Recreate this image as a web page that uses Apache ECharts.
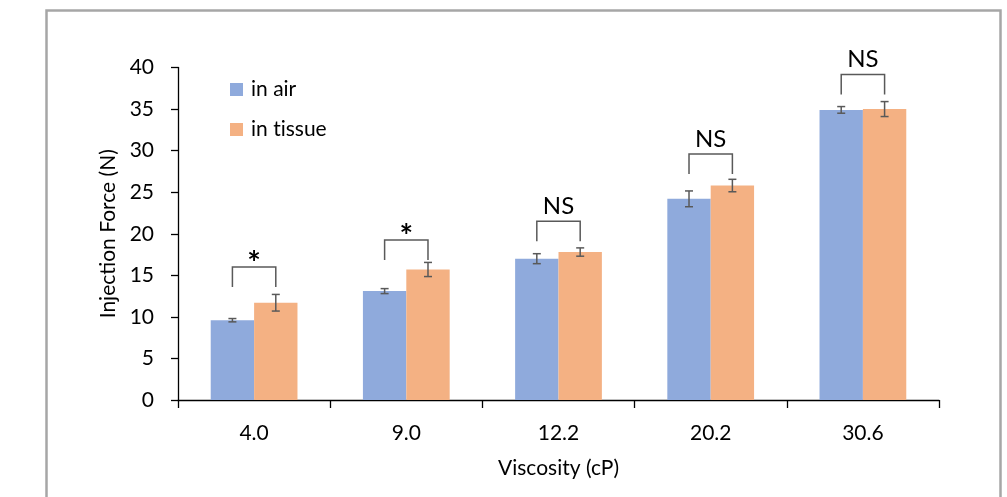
<!DOCTYPE html>
<html>
<head>
<meta charset="utf-8">
<script src="https://cdn.jsdelivr.net/npm/echarts@6/dist/echarts.min.js"></script>
<style>
html,body{margin:0;padding:0;background:#fff;}
#c{width:1007px;height:497px;}
</style>
</head>
<body>
<div id="c"></div>
<script>
var categories = ['4.0', '9.0', '12.2', '20.2', '30.6'];
var yTicks = [0, 5, 10, 15, 20, 25, 30, 35, 40];
var airValues = [9.6, 13.1, 17.0, 24.2, 34.9];
var tissueValues = [11.7, 15.7, 17.8, 25.8, 35.0];
var airErrors = [0.2, 0.3, 0.6, 0.95, 0.4];
var tissueErrors = [1.0, 0.85, 0.5, 0.75, 0.9];
var sigLabels = ['*', '*', 'NS', 'NS', 'NS'];
var sigLevels = [16.0, 19.25, 21.5, 29.6, 39.15];

var FONT = 'Lato, "Open Sans", sans-serif';
var CAT_GAP = 0.43;
var COLORS = ['#8FAADC', '#F4B183'];

function barOffset(api, sign) {
  var band = api.size([1, 0])[0];
  var bw = band * (1 - CAT_GAP) / 2;
  return sign * bw / 2;
}

function errRenderer(values, errors, sign) {
  return function (params, api) {
    var i = api.value(0);
    var v = values[i], e = errors[i];
    var off = barOffset(api, sign);
    var pTop = api.coord([i, v + e]);
    var pBot = api.coord([i, v - e]);
    var x = pTop[0] + off;
    var cap = 4;
    var st = {stroke: '#595959', lineWidth: 1.5};
    return {
      type: 'group',
      children: [
        {type: 'line', shape: {x1: x, y1: pTop[1], x2: x, y2: pBot[1]}, style: st},
        {type: 'line', shape: {x1: x - cap, y1: pTop[1], x2: x + cap, y2: pTop[1]}, style: st},
        {type: 'line', shape: {x1: x - cap, y1: pBot[1], x2: x + cap, y2: pBot[1]}, style: st}
      ]
    };
  };
}

function sigRenderer(params, api) {
  var i = api.value(0);
  var lvl = sigLevels[i];
  var p = api.coord([i, lvl]);
  var xl = p[0] + barOffset(api, -1);
  var xr = p[0] + barOffset(api, 1);
  var yt = p[1];
  var leg = 20;
  var lab = sigLabels[i];
  var isStar = lab === '*';
  return {
    type: 'group',
    children: [
      {type: 'polyline', shape: {points: [[xl, yt + leg], [xl, yt], [xr, yt], [xr, yt + leg]]},
        style: {stroke: '#595959', lineWidth: 1.5, fill: null}},
      {type: 'text', x: (xl + xr) / 2, y: isStar ? yt + 14 : yt - 3,
        style: {text: lab, align: 'center', verticalAlign: 'bottom',
          font: (isStar ? 'bold 32px ' : '24px ') + FONT, fill: '#000'}}
    ]
  };
}

var idx = categories.map(function (c, i) { return [i]; });

var chart = echarts.init(document.getElementById('c'), null, {renderer: 'canvas'});
chart.setOption({
  animation: false,
  backgroundColor: '#fff',
  textStyle: {fontFamily: FONT},
  graphic: [{
    type: 'rect', shape: {x: 46.5, y: 10.5, width: 954, height: 520},
    style: {fill: null, stroke: '#a6a6a6', lineWidth: 2.5}, silent: true
  }],
  legend: {
    orient: 'vertical', left: 225, top: 73,
    itemWidth: 13, itemHeight: 13, itemGap: 17,
    icon: 'rect',
    data: ['in air', 'in tissue'],
    formatter: function (n) { return n.replace('ti', 't\u200Ci'); },
    textStyle: {fontSize: 21, color: '#000', fontFamily: FONT, lineHeight: 23, padding: [0, 0, 0, 3]}
  },
  grid: {left: 178, right: 68, top: 67.5, bottom: 97, containLabel: false},
  xAxis: {
    type: 'category', data: categories,
    name: 'Viscosity (cP)', nameLocation: 'middle', nameGap: 58,
    nameTextStyle: {fontSize: 21, color: '#000', fontFamily: FONT},
    axisLine: {lineStyle: {color: '#000', width: 1.3}},
    axisTick: {show: true, alignWithLabel: false, length: 8, lineStyle: {color: '#000', width: 1.3}},
    axisLabel: {fontSize: 21, color: '#000', margin: 23, fontFamily: FONT}
  },
  yAxis: {
    type: 'value', min: yTicks[0], max: yTicks[yTicks.length - 1], interval: 5,
    name: 'Injection Force (N)', nameLocation: 'middle', nameGap: 57,
    nameTextStyle: {fontSize: 21, color: '#000', fontFamily: FONT},
    axisLine: {show: true, lineStyle: {color: '#000', width: 1.3}},
    axisTick: {show: true, length: 7, lineStyle: {color: '#000', width: 1.3}},
    axisLabel: {fontSize: 21, color: '#000', margin: 24, fontFamily: FONT},
    splitLine: {show: false}
  },
  series: [
    {name: 'in air', type: 'bar', data: airValues, barGap: '0%', barCategoryGap: (CAT_GAP * 100) + '%',
      itemStyle: {color: COLORS[0]}},
    {name: 'in tissue', type: 'bar', data: tissueValues, barGap: '0%', barCategoryGap: (CAT_GAP * 100) + '%',
      itemStyle: {color: COLORS[1]}},
    {type: 'custom', data: idx, renderItem: errRenderer(airValues, airErrors, -1), z: 5, silent: true},
    {type: 'custom', data: idx, renderItem: errRenderer(tissueValues, tissueErrors, 1), z: 5, silent: true},
    {type: 'custom', data: idx, renderItem: sigRenderer, z: 6, silent: true}
  ]
});
</script>
</body>
</html>
